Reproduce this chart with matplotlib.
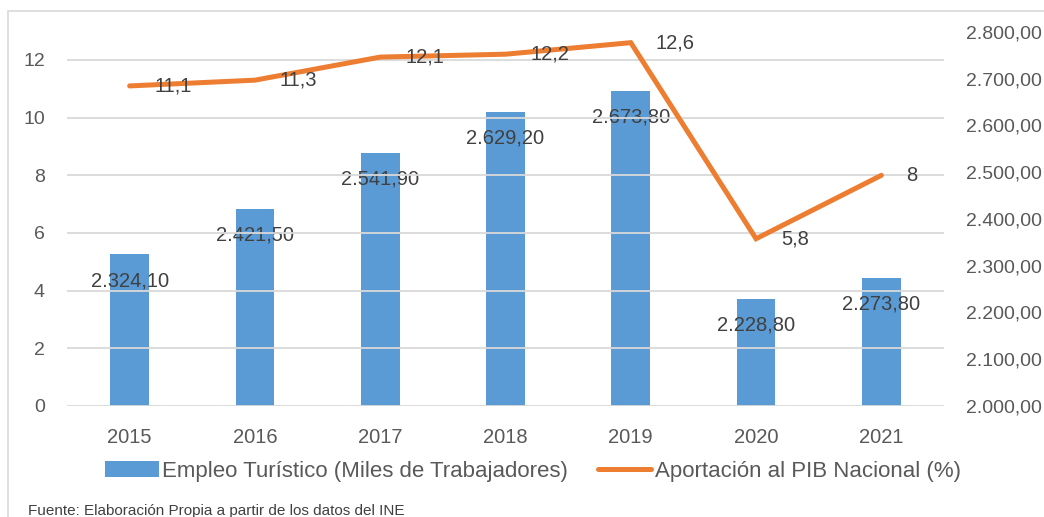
import matplotlib.pyplot as plt
import numpy as np
from matplotlib.patches import Rectangle

years = ['2015', '2016', '2017', '2018', '2019', '2020', '2021']
empleo = [2324.10, 2421.50, 2541.90, 2629.20, 2673.80, 2228.80, 2273.80]
pib = [11.1, 11.3, 12.1, 12.2, 12.6, 5.8, 8]

plt.rcParams['font.family'] = ['Liberation Sans', 'DejaVu Sans']

BLUE = '#5B9BD5'
ORANGE = '#ED7D31'
TICK = '#595959'
LABEL = '#404040'
GRID = '#D9D9D9'


def es_num(v, dec):
    # spanish style: dot for thousands, comma for decimals
    s = f'{v:,.{dec}f}'
    return s.replace(',', 'X').replace('.', ',').replace('X', '.')


def es_short(v):
    s = f'{v:g}'
    return s.replace('.', ',')


fig = plt.figure(figsize=(10.44, 5.17), dpi=100)
ax = fig.add_axes([67 / 1044, 1 - 406 / 517, (944 - 67) / 1044, (406 - 32) / 517])
ax2 = ax.twinx()

x = np.arange(len(years))

# bars on the secondary (right) axis
bars = ax2.bar(x, empleo, width=0.31, color=BLUE, zorder=2,
               label='Empleo Turístico (Miles de Trabajadores)')
ax2.set_ylim(2000, 2800)
ax2.set_yticks(np.arange(2000, 2801, 100))
ax2.set_yticklabels([es_num(v, 2) for v in np.arange(2000, 2801, 100)])

for xi, v in zip(x, empleo):
    ax2.annotate(es_num(v, 2), (xi, v), xytext=(0, -19), textcoords='offset points',
                 ha='center', va='center', fontsize=14.5, color=LABEL, zorder=5)

# line on the primary (left) axis, drawn above bars
ax.set_zorder(ax2.get_zorder() + 1)
ax.patch.set_visible(False)
line, = ax.plot(x, pib, color=ORANGE, lw=3.6, solid_capstyle='round',
                solid_joinstyle='miter', label='Aportación al PIB Nacional (%)', zorder=3)
ax.set_ylim(0, 12.97)
ax.set_yticks(np.arange(0, 13, 2))
ax.set_xlim(-0.5, 6.5)
ax.set_xticks(x)
ax.set_xticklabels(years)
ax.grid(axis='y', color=GRID, lw=1.3, zorder=0)
ax.set_axisbelow(True)

for xi, v in zip(x, pib):
    ax.annotate(es_short(v), (xi, v), xytext=(18, 0), textcoords='offset points',
                ha='left', va='center', fontsize=14.5, color=LABEL, zorder=6)

for a in (ax, ax2):
    for sp in a.spines.values():
        sp.set_visible(False)
    a.tick_params(length=0, labelsize=14, labelcolor=TICK)
ax.tick_params(axis='y', pad=16)
ax2.tick_params(axis='y', pad=16)
ax.tick_params(axis='x', pad=16, labelsize=14.5)

fig.legend(handles=[bars, line], loc='center', bbox_to_anchor=(533 / 1044, 1 - 471 / 517),
           ncol=2, frameon=False, fontsize=16, labelcolor=TICK, handlelength=2.4,
           handleheight=0.7, handletextpad=0.15, columnspacing=1.35)

fig.text(28 / 1044, 1 - 511 / 517, 'Fuente: Elaboración Propia a partir de los datos del INE',
         ha='left', va='center', fontsize=11, color=LABEL)

# chart border
fig.patches.append(Rectangle((8 / 1044, -0.1), 1.2, 1.1 - 11 / 517, transform=fig.transFigure,
                             fill=False, edgecolor=GRID, lw=1.2))

fig.savefig('out.png', dpi=100, facecolor='white')
